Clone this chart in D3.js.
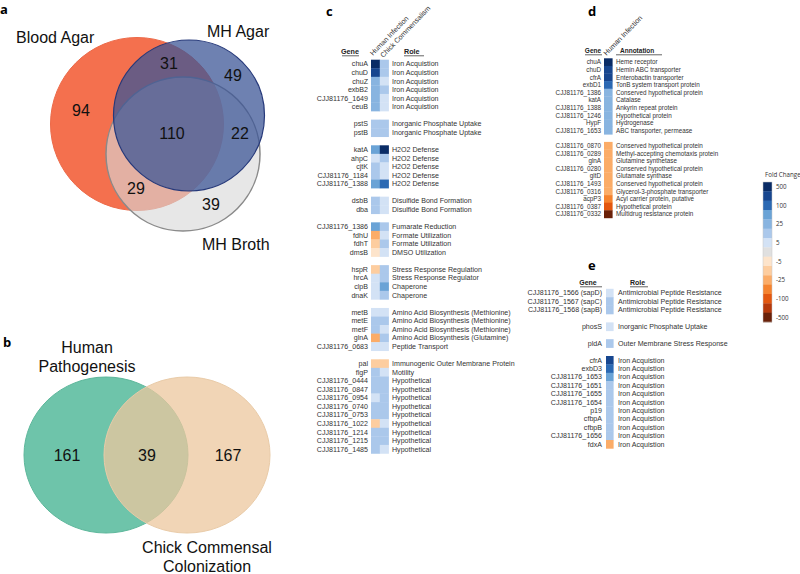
<!DOCTYPE html>
<html><head><meta charset="utf-8">
<script src="https://cdn.jsdelivr.net/npm/d3@7"></script>
<style>
body{margin:0;background:#fff;}
svg{display:block;font-family:"Liberation Sans",Arial,sans-serif;}
</style></head>
<body><svg id="chart" width="800" height="574"></svg>
<script>
// ---------------- DATA ----------------
// Panel a Venn
const vennASets = ["Blood Agar", "MH Agar", "MH Broth"];
const vennARegions = ["Blood only", "Blood∩MH Agar", "MH Agar only", "All", "MH Agar∩MH Broth", "Blood∩MH Broth", "MH Broth only"];
const vennACounts = [94, 31, 49, 110, 22, 29, 39];
// Panel b Venn
const vennBSets = [["Human", "Pathogenesis"], ["Chick Commensal", "Colonization"]];
const vennBRegions = ["Human only", "Both", "Chick only"];
const vennBCounts = [161, 39, 167];

// Panel c heatmap
const cColumns = ["Human Infection", "Chick Commensalism"];
const cGenes = ["chuA","chuD","chuZ","exbB2","CJJ81176_1649","ceuB",
  "pstS","pstB",
  "katA","ahpC","cjtK","CJJ81176_1184","CJJ81176_1388",
  "dsbB","dba",
  "CJJ81176_1386","fdhU","fdhT","dmsB",
  "hspR","hrcA","clpB","dnaK",
  "metB","metE","metF","glnA","CJJ81176_0683",
  "pal","flgP","CJJ81176_0444","CJJ81176_0847","CJJ81176_0954","CJJ81176_0740","CJJ81176_0753","CJJ81176_1022","CJJ81176_1214","CJJ81176_1215","CJJ81176_1485"];
const cRoles = ["Iron Acquistion","Iron Acquistion","Iron Acquistion","Iron Acquistion","Iron Acquistion","Iron Acquistion",
  "Inorganic Phosphate Uptake","Inorganic Phosphate Uptake",
  "H2O2 Defense","H2O2 Defense","H2O2 Defense","H2O2 Defense","H2O2 Defense",
  "Disulfide Bond Formation","Disulfide Bond Formation",
  "Fumarate Reduction","Formate Utilization","Formate Utilization","DMSO Utilization",
  "Stress Response Regulation","Stress Response Regulator","Chaperone","Chaperone",
  "Amino Acid Biosynthesis (Methionine)","Amino Acid Biosynthesis (Methionine)","Amino Acid Biosynthesis (Methionine)","Amino Acid Biosynthesis (Glutamine)","Peptide Transport",
  "Immunogenic Outer Membrane Protein","Motility","Hypothetical","Hypothetical","Hypothetical","Hypothetical","Hypothetical","Hypothetical","Hypothetical","Hypothetical","Hypothetical"];
const cGroups = [0,0,0,0,0,0, 1,1, 2,2,2,2,2, 3,3, 4,4,4,4, 5,5,5,5, 6,6,6,6,6, 7,7,7,7,7,7,7,7,7,7,7];
const cHuman = [500,200,25,25,25,25, 15,12, 50,5,15,15,50, 15,15, 50,-25,-12,-8, -12,5,5,5, 5,15,15,-25,5, -12,15,15,15,5,15,15,-12,15,15,15];
const cChick = [12,12,5,15,5,5, 15,15, 500,12,5,5,100, 5,5, 12,5,15,5, 15,15,50,15, 5,15,5,15,5, -12,5,15,15,15,15,15,5,15,15,5];

// Panel d heatmap
const dGenes = ["chuA","chuD","cfrA","exbD1","CJJ81176_1386","katA","CJJ81176_1388","CJJ81176_1246","HypF","CJJ81176_1653",
  "CJJ81176_0870","CJJ81176_0289","glnA","CJJ81176_0280","gltD","CJJ81176_1493","CJJ81176_0316","acpP3","CJJ81176_0387","CJJ81176_0332"];
const dAnnot = ["Heme receptor","Hemin ABC transporter","Enterobactin transporter","TonB system transport protein","Conserved hypothetical protein","Catalase","Ankyrin repeat protein","Hypothetical protein","Hydrogenase","ABC transporter, permease",
  "Conserved hypothetical protein","Methyl-accepting chemotaxis protein","Glutamine synthetase","Conserved hypothetical protein","Glutamate synthase","Conserved hypothetical protein","Glycerol-3-phosphate transporter","Acyl carrier protein, putative","Hypothetical protein","Multidrug resistance protein"];
const dGroups = [0,0,0,0,0,0,0,0,0,0, 1,1,1,1,1,1,1,1,1,1];
const dHuman = [500,200,200,100,25,25,25,25,25,25, -25,-25,-25,-25,-25,-25,-25,-50,-100,-500];

// Panel e heatmap
const eGenes = ["CJJ81176_1566 (sapD)","CJJ81176_1567 (sapC)","CJJ81176_1568 (sapB)",
  "phosS","pldA",
  "cfrA","exbD3","CJJ81176_1653","CJJ81176_1651","CJJ81176_1655","CJJ81176_1654","p19","cfbpA","cfbpB","CJJ81176_1656","fdxA"];
const eRoles = ["Antimicrobial Peptide Resistance","Antimicrobial Peptide Resistance","Antimicrobial Peptide Resistance",
  "Inorganic Phosphate Uptake","Outer Membrane Stress Response",
  "Iron Acquistion","Iron Acquistion","Iron Acquistion","Iron Acquistion","Iron Acquistion","Iron Acquistion","Iron Acquistion","Iron Acquistion","Iron Acquistion","Iron Acquistion","Iron Acquistion"];
const eGroups = [0,0,0, 1, 2, 3,3,3,3,3,3,3,3,3,3,3];
const eHuman = [5,12,12, 5, 12, 200,100,50,12,12,12,12,12,12,12,-25];

// Legend
const legendLabels = [500, 100, 25, 5, -5, -25, -100, -500];
const foldThresholds = [-300,-150,-75,-35,-18,-8,-2.5,2.5,8,18,35,75,150,300];
const foldColors = ["#6a2109","#b5390b","#e3570f","#f5832f","#fbac68","#fdcd9f","#fde4cb","#e0e0e0",
  "#d3e2f5","#abc8eb","#88b4e0","#6aa3d6","#2b69b3","#17468f","#0a2c66"];

// ---------------- DRAW ----------------
const svg = d3.select("#chart");
const color = d3.scaleThreshold().domain(foldThresholds).range(foldColors);

function panelLabel(t, x, y) {
  svg.append("text").attr("x", x).attr("y", y).attr("font-size", 13).attr("font-weight", "bold")
    .attr("font-family", "'Open Sans','Liberation Sans',Arial,sans-serif").text(t);
}

// ---- Panel a ----
panelLabel("a", 0, 14);
const ga = svg.append("g");
const aCircles = [
  {name: vennASets[0], cx: 137, cy: 124, r: 86.5, fill: "#f4704e", op: 1, stroke: "#ec6a49", sw: 1},
  {name: vennASets[2], cx: 183, cy: 154, r: 77, fill: "#d9d9d9", op: 0.62, stroke: "#8a8a8a", sw: 1.5},
  {name: vennASets[1], cx: 189, cy: 115.5, r: 75.5, fill: "#3c5596", op: 0.74, stroke: "#26397a", sw: 1.2}
];
ga.selectAll("circle").data(aCircles).join("circle")
  .attr("cx", d => d.cx).attr("cy", d => d.cy).attr("r", d => d.r)
  .attr("fill", d => d.fill).attr("fill-opacity", d => d.op)
  .attr("stroke", d => d.stroke).attr("stroke-width", d => d.sw);
const aSetLabelPos = [[16, 43], [207, 37], [202, 250]];
ga.selectAll("text.set").data(vennASets).join("text").attr("class", "set")
  .attr("x", (d, i) => aSetLabelPos[i][0]).attr("y", (d, i) => aSetLabelPos[i][1])
  .attr("font-size", 16).attr("fill", "#111").text(d => d);
const aCountPos = [[81, 116], [169, 69], [233, 81], [172, 139], [240, 139], [136, 194], [211, 210]];
ga.selectAll("text.cnt").data(vennACounts).join("text").attr("class", "cnt")
  .attr("x", (d, i) => aCountPos[i][0]).attr("y", (d, i) => aCountPos[i][1])
  .attr("text-anchor", "middle").attr("font-size", 16).attr("fill", "#111").text(d => d);

// ---- Panel b ----
panelLabel("b", 3, 347);
const gb = svg.append("g");
const bEll = [
  {cx: 106, cy: 455, rx: 82, ry: 78, fill: "#6ec4aa", op: 1, stroke: "#5db79b"},
  {cx: 187, cy: 455, rx: 83, ry: 78, fill: "#ecc79e", op: 0.75, stroke: "#e9cba8"}
];
gb.selectAll("ellipse").data(bEll).join("ellipse")
  .attr("cx", d => d.cx).attr("cy", d => d.cy).attr("rx", d => d.rx).attr("ry", d => d.ry)
  .attr("fill", d => d.fill).attr("fill-opacity", d => d.op).attr("stroke", d => d.stroke).attr("stroke-width", 1);
const bLabelPos = [[87, 353, 372], [207, 553, 572]];
vennBSets.forEach((lines, i) => {
  lines.forEach((ln, j) => {
    gb.append("text").attr("x", bLabelPos[i][0]).attr("y", bLabelPos[i][1 + j])
      .attr("text-anchor", "middle").attr("font-size", 16).attr("fill", "#111").text(ln);
  });
});
const bCountX = [67, 147, 228];
gb.selectAll("text.cnt").data(vennBCounts).join("text").attr("class", "cnt")
  .attr("x", (d, i) => bCountX[i]).attr("y", 461).attr("text-anchor", "middle")
  .attr("font-size", 16).attr("fill", "#111").text(d => d);

// ---- heatmap helper ----
function slots(groups) { return groups.map((g, i) => i + g); }

function header(g, text, x, y, anchor, fs, ulFrom, ulTo) {
  g.append("text").attr("x", x).attr("y", y).attr("text-anchor", anchor)
    .attr("font-size", fs).attr("font-weight", "bold").attr("fill", "#222").text(text);
  g.append("line").attr("x1", ulFrom).attr("x2", ulTo).attr("y1", y + 1.8).attr("y2", y + 1.8)
    .attr("stroke", "#222").attr("stroke-width", 0.7);
}

function heatmap(opts) {
  const g = svg.append("g");
  const s = slots(opts.groups);
  const nSlots = s[s.length - 1] + 1;
  const y = d3.scaleLinear().domain([0, nSlots]).range([opts.y0, opts.y0 + nSlots * opts.pitch]);
  const x = d3.scaleBand().domain(opts.columns).range([opts.x0, opts.x1]);
  opts.columns.forEach((col, ci) => {
    g.selectAll("rect.c" + ci).data(opts.values[ci]).join("rect").attr("class", "c" + ci)
      .attr("x", x(col)).attr("width", x.bandwidth() + 0.3)
      .attr("y", (d, i) => y(s[i])).attr("height", opts.pitch + 0.3)
      .attr("fill", d => color(d));
  });
  g.selectAll("text.gene").data(opts.genes).join("text").attr("class", "gene")
    .attr("x", opts.geneX).attr("y", (d, i) => y(s[i] + 0.5)).attr("dy", "0.35em")
    .attr("text-anchor", "end").attr("font-size", opts.fs).attr("fill", "#333").text(d => d);
  g.selectAll("text.role").data(opts.roles).join("text").attr("class", "role")
    .attr("x", opts.roleX).attr("y", (d, i) => y(s[i] + 0.5)).attr("dy", "0.35em")
    .attr("font-size", opts.fs).attr("fill", "#333").text(d => d);
  if (opts.colHeaders) {
    opts.columns.forEach((col, ci) => {
      g.append("text").attr("transform", `translate(${x(col) + opts.headDx + ci * 1.5},${opts.headY + ci * 2}) rotate(-46)`)
        .attr("font-size", opts.headFs).attr("fill", "#333").text(col);
    });
  }
  return g;
}

// ---- Panel c ----
panelLabel("c", 326, 16);
const gc = heatmap({columns: cColumns, values: [cHuman, cChick], genes: cGenes, roles: cRoles, groups: cGroups,
  x0: 371, x1: 388.6, y0: 59.7, pitch: 8.56, geneX: 368, roleX: 392, fs: 7.1, colHeaders: true, headY: 56, headDx: 2, headFs: 7.1});
header(gc, "Gene", 350, 54, "middle", 7.2, 342, 359);
header(gc, "Role", 404, 54, "start", 7.2, 404, 424);

// ---- Panel d ----
panelLabel("d", 588, 16);
const gd = heatmap({columns: ["Human Infection"], values: [dHuman], genes: dGenes, roles: dAnnot, groups: dGroups,
  x0: 604, x1: 612.3, y0: 58.3, pitch: 7.6, geneX: 601, roleX: 616, fs: 6.3, colHeaders: true, headY: 56, headDx: 2.5, headFs: 7.2});
header(gd, "Gene", 593, 53, "middle", 6.5, 585, 602);
header(gd, "Annotation", 620, 53, "start", 6.5, 616, 662);

// ---- Panel e ----
panelLabel("e", 588, 270);
const ge = heatmap({columns: ["Human Infection"], values: [eHuman], genes: eGenes, roles: eRoles, groups: eGroups,
  x0: 606, x1: 613.3, y0: 288.8, pitch: 8.4, geneX: 602, roleX: 618, fs: 7.1, colHeaders: false});
header(ge, "Gene", 588, 285, "middle", 7, 580, 602);
header(ge, "Role", 630, 285, "start", 7, 630, 648);

// ---- Legend ----
const gl = svg.append("g");
const binsTopDown = foldColors.slice().reverse();
const ly = d3.scaleBand().domain(d3.range(binsTopDown.length)).range([182, 322]);
gl.selectAll("rect").data(binsTopDown).join("rect")
  .attr("x", 763).attr("width", 9).attr("y", (d, i) => ly(i)).attr("height", ly.bandwidth() + 0.3)
  .attr("fill", d => d);
gl.append("rect").attr("x", 763).attr("y", 182).attr("width", 9).attr("height", 140)
  .attr("fill", "none").attr("stroke", "#c8c8c8").attr("stroke-width", 0.5);
gl.append("text").attr("x", 765).attr("y", 177).attr("font-size", 6.2).attr("fill", "#333")
  .attr("font-family", "'Open Sans','Liberation Sans',sans-serif").text("Fold Change");
gl.selectAll("text.lbl").data(legendLabels).join("text").attr("class", "lbl")
  .attr("x", 776).attr("y", (d, i) => ly(i * 2) + ly.bandwidth() / 2).attr("dy", "0.35em")
  .attr("font-size", 6.2).attr("fill", "#333")
  .attr("font-family", "'Open Sans','Liberation Sans',sans-serif").text(d => d);
</script>
</body></html>
